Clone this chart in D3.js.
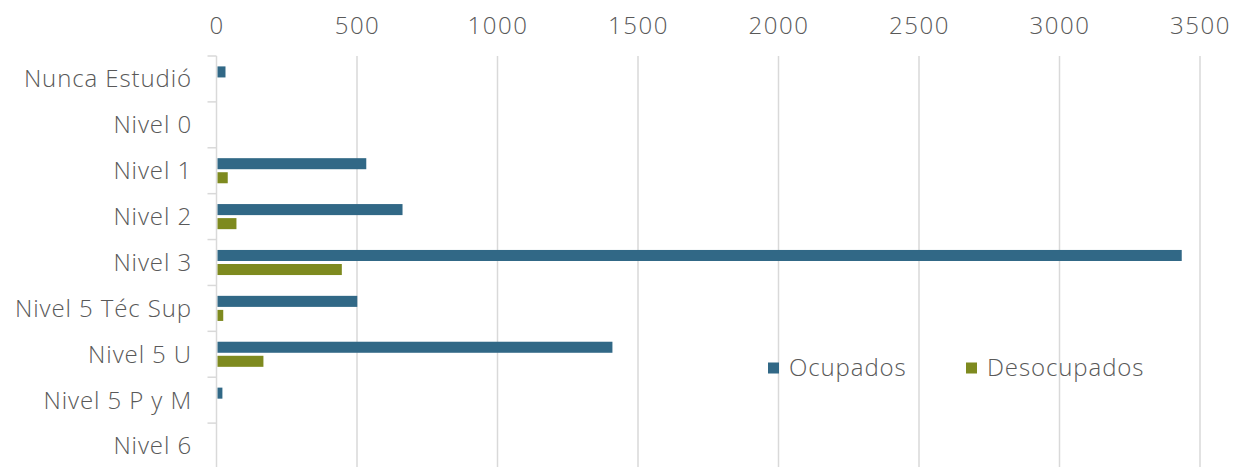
<!DOCTYPE html>
<html>
<head>
<meta charset="utf-8">
<script src="https://cdn.jsdelivr.net/npm/d3@7"></script>
<style>
  body { margin: 0; background: #fff; }
  text { font-family: "Open Sans", Lato, sans-serif; font-weight: 300; fill: #595959; letter-spacing: 0.9px; }
</style>
</head>
<body>
<script>
// categories and series
var categories = ["Nunca Estudió", "Nivel 0", "Nivel 1", "Nivel 2", "Nivel 3",
    "Nivel 5 Téc Sup", "Nivel 5 U", "Nivel 5 P y M", "Nivel 6"];
var ocupados = [32, 0, 533, 662, 3435, 501, 1409, 21, 0];
var desocupados = [0, 0, 40, 71, 446, 24, 167, 0, 0];
var seriesNames = ["Ocupados", "Desocupados"];
var xTicks = [0, 500, 1000, 1500, 2000, 2500, 3000, 3500];

var colors = ["#316886", "#7e8a1f"];
var width = 1246, height = 467;
var margins = {top: 56, right: 46, bottom: -2, left: 216.5};

var svg = d3.select("body").append("svg")
    .attr("width", width)
    .attr("height", height);

var xScale = d3.scaleLinear()
    .domain([0, 3500])
    .range([margins.left, width - margins.right]);

var yScale = d3.scaleBand()
    .domain(categories)
    .range([margins.top, height - margins.bottom]);

var inner = d3.scaleBand()
    .domain(seriesNames)
    .range([0, yScale.bandwidth()])
    .paddingInner(0.214)
    .paddingOuter(0.74);

// gridlines
svg.append("g").selectAll("line").data(xTicks.slice(1)).enter().append("line")
    .attr("x1", function (d) { return xScale(d); })
    .attr("x2", function (d) { return xScale(d); })
    .attr("y1", margins.top)
    .attr("y2", height)
    .attr("stroke", "#d9d9d9")
    .attr("stroke-width", 1.5);

// top axis labels
var xAxis = d3.axisTop(xScale).tickValues(xTicks).tickFormat(d3.format("d"))
    .tickSize(0).tickPadding(0);
var gx = svg.append("g")
    .attr("transform", "translate(0,34)")
    .call(xAxis);
gx.select(".domain").remove();
gx.selectAll("text").style("font-size", "24px").attr("fill", "#595959")
    .style("font-family", "\"Open Sans\", sans-serif").style("font-weight", 300)
    .style("letter-spacing", "1.5px");

// left axis
var gy = svg.append("g");
gy.append("line")
    .attr("x1", xScale(0)).attr("x2", xScale(0))
    .attr("y1", margins.top).attr("y2", height)
    .attr("stroke", "#d9d9d9").attr("stroke-width", 1.5);
gy.selectAll(".tk").data(categories).enter().append("line")
    .attr("class", "tk")
    .attr("x1", xScale(0) - 9).attr("x2", xScale(0))
    .attr("y1", function (d) { return yScale(d); })
    .attr("y2", function (d) { return yScale(d); })
    .attr("stroke", "#d9d9d9").attr("stroke-width", 1.5);
gy.selectAll("text").data(categories).enter().append("text")
    .attr("x", 192)
    .attr("y", function (d) { return yScale(d) + yScale.bandwidth() / 2; })
    .attr("dy", "0.35em")
    .attr("text-anchor", "end")
    .style("font-size", "24px")
    .text(function (d) { return d; });

// bars
var series = [ocupados, desocupados];
series.forEach(function (vals, s) {
    svg.append("g").selectAll("rect").data(vals).enter().append("rect")
        .attr("x", xScale(0) + 1)
        .attr("y", function (d, i) { return yScale(categories[i]) + inner(seriesNames[s]); })
        .attr("width", function (d) { return Math.max(0, xScale(d) - xScale(0) - 1); })
        .attr("height", inner.bandwidth())
        .attr("fill", colors[s]);
});

// legend
var legend = svg.append("g").attr("transform", "translate(768,368)");
var lx = [0, 198];
seriesNames.forEach(function (name, s) {
    var g = legend.append("g").attr("transform", "translate(" + lx[s] + ",0)");
    g.append("rect").attr("x", 0).attr("y", -5.5).attr("width", 11).attr("height", 11)
        .attr("fill", colors[s]);
    g.append("text").attr("x", 21).attr("y", 0).attr("dy", "0.35em")
        .style("font-size", "24px").text(name);
});
</script>
</body>
</html>
